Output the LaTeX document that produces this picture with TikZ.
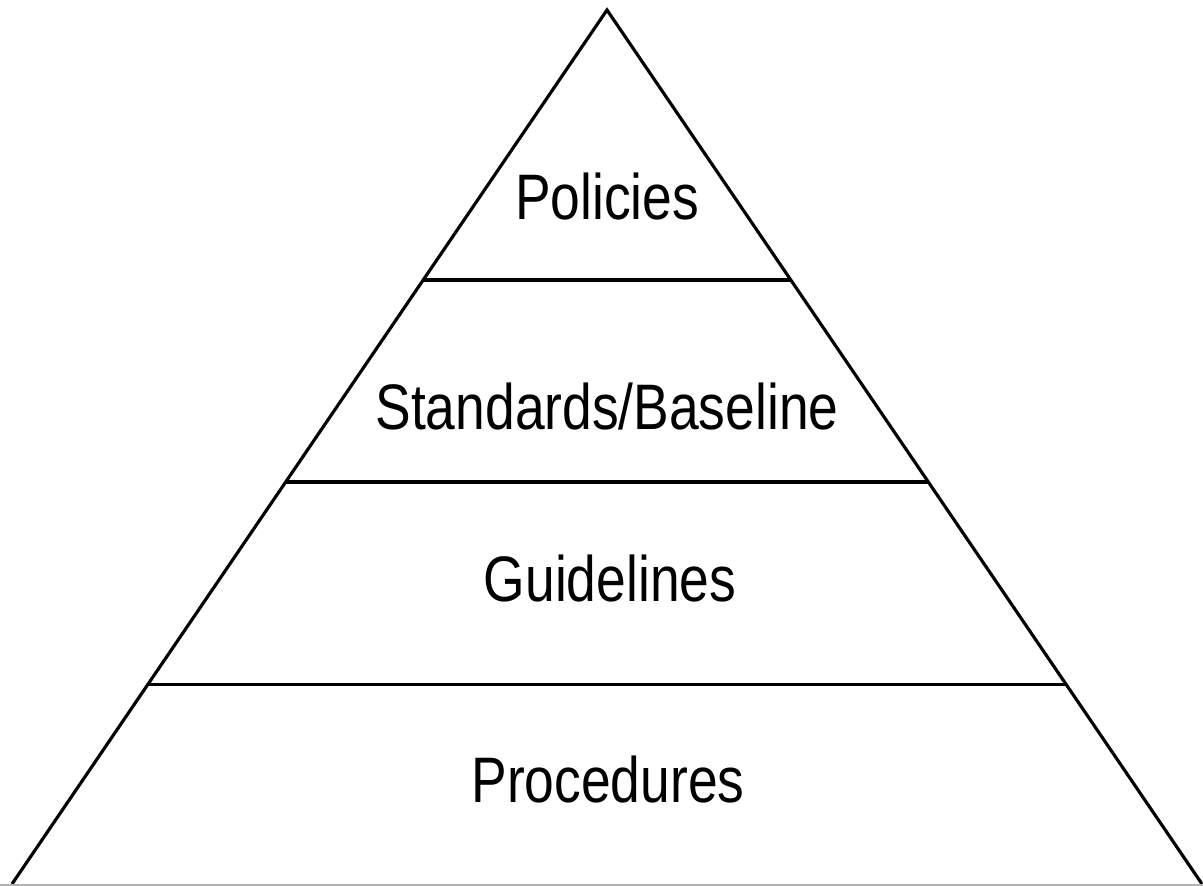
\documentclass[tikz,border=0pt]{standalone}
\usepackage{fontspec}
\setmainfont[FakeStretch=0.83]{Liberation Sans}
\usepackage{tikz}
\usetikzlibrary{calc}

\begin{document}
\begin{tikzpicture}
\tikzstyle{edge} = [line width=0.9pt, black]
\tikzstyle{layer} = [font=\fontsize{18.3}{22}\selectfont, inner sep=0pt, anchor=base]

\useasboundingbox (0,0) rectangle (12.03,8.86);

% outline of the pyramid
\coordinate (apex) at (6.07,8.76);
\coordinate (bl) at (0.12,0.02);
\coordinate (br) at (12.02,0.02);
\draw [edge] (bl) -- (apex) -- (br);
\draw [black!30, line width=0.4pt] (0,0.01) -- (12.03,0.01);

% dividing lines
\foreach \t/\n in {0.309/a, 0.540/b, 0.772/c}
  \draw [edge] ($(apex)!\t!(bl)$) coordinate (l\n) -- ($(apex)!\t!(br)$) coordinate (r\n);

\node (pol) [layer] at (6.07,6.66) {Policies};
\node (std) [layer] at (6.07,4.56) {Standards/Baseline};
\node (gde) [layer] at (6.10,2.84) {Guidelines};
\node (proc) [layer] at (6.08,0.83) {Procedures};

\end{tikzpicture}
\end{document}
